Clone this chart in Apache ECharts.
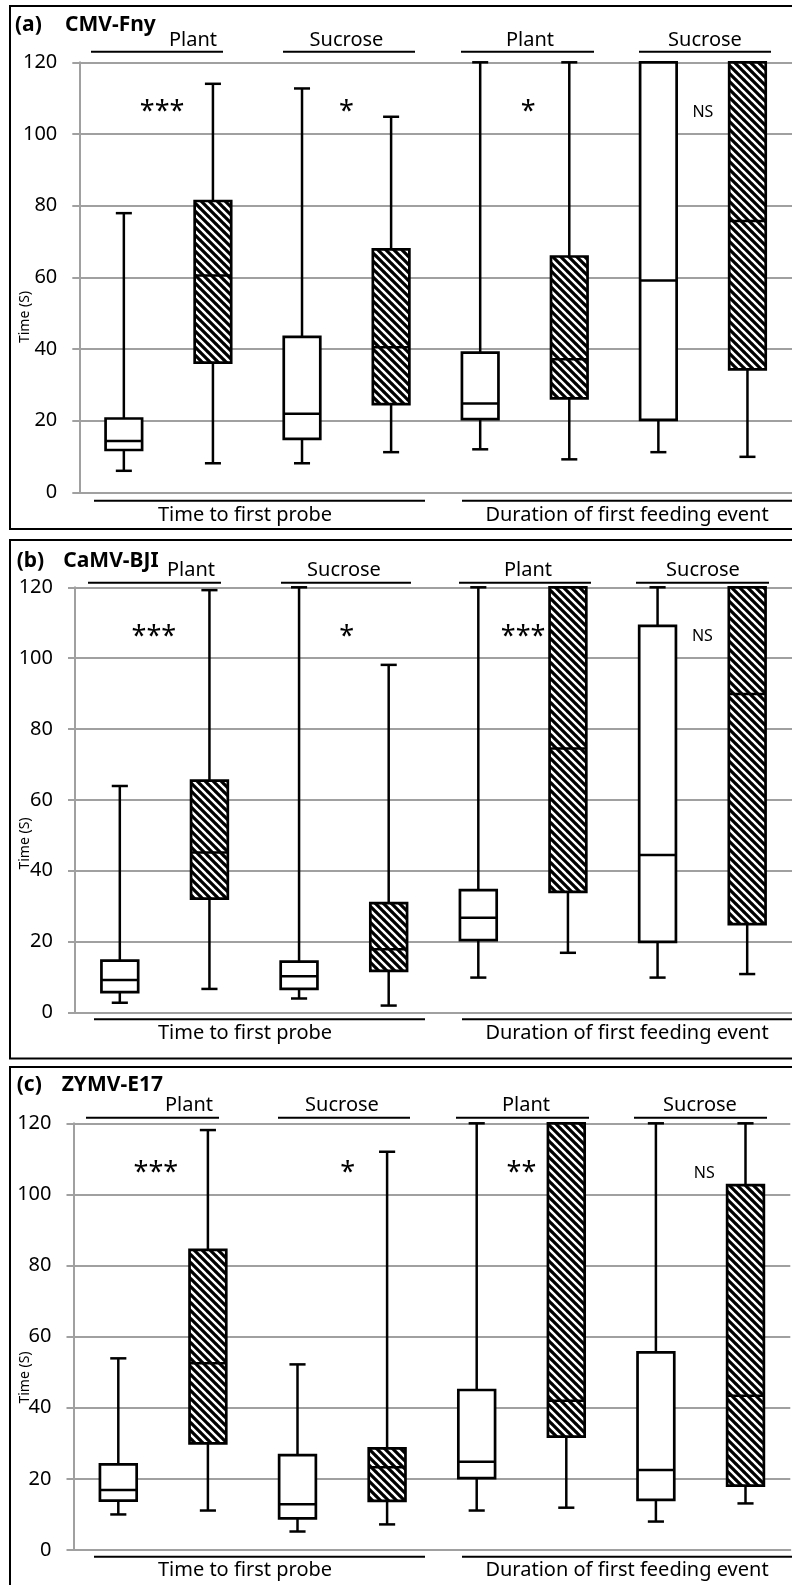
<!DOCTYPE html>
<html><head><meta charset="utf-8">
<script src="https://cdn.jsdelivr.net/npm/echarts/dist/echarts.min.js"></script>
<style>html,body{margin:0;padding:0;background:#fff}#c{width:792px;height:1585px}</style>
</head><body><div id="c"></div>
<script>
// ---- data ----
const categories = ['Probe-Plant-white','Probe-Plant-hatched','Probe-Sucrose-white','Probe-Sucrose-hatched',
                    'Feed-Plant-white','Feed-Plant-hatched','Feed-Sucrose-white','Feed-Sucrose-hatched'];
const hatchedFlags = [0,1,0,1,0,1,0,1];
const yTickValues = [0,20,40,60,80,100,120];
const panelTitles = ['(a)','(b)','(c)'];
const virusNames = ['CMV-Fny','CaMV-BJI','ZYMV-E17'];
const groupLabels = ['Plant','Sucrose','Plant','Sucrose'];
const measureLabels = ['Time to first probe','Duration of first feeding event'];
const yAxisName = 'Time (S)';

const lowA    = [6.0, 8.1, 8.1, 11.2, 12.0, 9.2, 11.2, 9.9];
const q1A     = [11.8, 36.2, 14.9, 24.6, 20.4, 26.2, 20.2, 34.3];
const medianA = [14.3, 60.5, 21.9, 40.5, 24.8, 37.1, 59.1, 75.7];
const q3A     = [20.6, 81.3, 43.4, 67.8, 39.0, 65.8, 120, 120];
const highA   = [77.9, 114, 112.7, 104.8, 120, 120, 120, 120];
const notesA  = ['***','*','*','NS'];

const lowB    = [2.7, 6.6, 3.9, 1.9, 9.8, 16.8, 9.8, 10.8];
const q1B     = [5.7, 32.1, 6.6, 11.7, 20.4, 34.0, 19.9, 24.9];
const medianB = [9.1, 45.1, 10.2, 17.8, 26.7, 74.5, 44.4, 89.9];
const q3B     = [14.6, 65.4, 14.3, 30.8, 34.5, 120, 109.1, 120];
const highB   = [63.9, 119.2, 120, 98.1, 120, 120, 120, 120];
const notesB  = ['***','*','***','NS'];

const lowC    = [10.0, 11.1, 5.2, 7.2, 11.1, 11.9, 8.0, 13.1];
const q1C     = [13.9, 30.0, 8.9, 13.8, 20.2, 31.9, 14.1, 18.1];
const medianC = [16.9, 52.5, 12.9, 23.3, 24.8, 42.0, 22.5, 43.4];
const q3C     = [24.1, 84.4, 26.7, 28.6, 45.0, 120, 55.6, 102.6];
const highC   = [53.9, 118.1, 52.2, 112.0, 120, 120, 120, 120];
const notesC  = ['***','*','**','NS'];

// annotation anchor (category-axis position, value)
const noteXA = [0.43, 2.5, 4.54, 6.5];
const noteXB = [0.38, 2.53, 4.5, 6.5];
const noteXC = [0.42, 2.56, 4.5, 6.54];
const noteY = 106;

// ---- drawing ----
const FONT = '"Noto Sans", "Open Sans", sans-serif';
function makeHatch(){
  const s=8, c=document.createElement('canvas'); c.width=s; c.height=s;
  const g=c.getContext('2d'); g.fillStyle='#fff'; g.fillRect(0,0,s,s);
  g.strokeStyle='#000'; g.lineWidth=3.2; g.beginPath();
  for(let k=-1;k<=1;k++){ g.moveTo(k*s-1,-1); g.lineTo(k*s+s+1,s+1); }
  g.stroke(); return c;
}
const hatchCanvas = makeHatch();
const hatchFill = {type:'pattern', image: hatchCanvas, repeat:'repeat'};

function boxData(lo,q1,md,q3,hi){
  return categories.map((c,i)=>[i,lo[i],q1[i],md[i],q3[i],hi[i],hatchedFlags[i]]);
}
function renderBox(params, api){
  const x=api.value(0);
  const lo=api.coord([x,api.value(1)]), q1=api.coord([x,api.value(2)]),
        md=api.coord([x,api.value(3)]), q3=api.coord([x,api.value(4)]), hi=api.coord([x,api.value(5)]);
  const band=api.size([1,0])[0];
  const bw=band*0.41, cw=band*0.18, cx=lo[0];
  const ls={stroke:'#000',lineWidth:2.5,fill:null};
  return {type:'group',children:[
    {type:'line',shape:{x1:cx,y1:lo[1],x2:cx,y2:q1[1]},style:ls},
    {type:'line',shape:{x1:cx,y1:q3[1],x2:cx,y2:hi[1]},style:ls},
    {type:'line',shape:{x1:cx-cw/2,y1:lo[1],x2:cx+cw/2,y2:lo[1]},style:ls},
    {type:'line',shape:{x1:cx-cw/2,y1:hi[1],x2:cx+cw/2,y2:hi[1]},style:ls},
    {type:'rect',shape:{x:cx-bw/2,y:q3[1],width:bw,height:q1[1]-q3[1]},
      style:{fill:api.value(6)===1?hatchFill:'#fff',stroke:'#000',lineWidth:2.7}},
    {type:'line',shape:{x1:cx-bw/2,y1:md[1],x2:cx+bw/2,y2:md[1]},style:ls}
  ]};
}
function noteRenderer(notes){
  return function(params, api){
    const p=api.coord([api.value(0),api.value(1)]);
    const t=notes[params.dataIndex];
    const isNS = t==='NS';
    return {type:'text',x:p[0],y:p[1],style:{text:t,textAlign:'center',textVerticalAlign:'middle',
      font:(isNS?'16px ':'27px ')+FONT,fill:'#000'}};
  };
}

const grids = [
  {left:79.3, top:62.3, width:715.2, height:430},
  {left:75, top:587.3, width:720, height:425},
  {left:73.5, top:1123.3, width:716.8, height:426.7}
];
const panels = [
  {lo:lowA,q1:q1A,md:medianA,q3:q3A,hi:highA,notes:notesA,nx:noteXA},
  {lo:lowB,q1:q1B,md:medianB,q3:q3B,hi:highB,notes:notesB,nx:noteXB},
  {lo:lowC,q1:q1C,md:medianC,q3:q3C,hi:highC,notes:notesC,nx:noteXC}
];

const xAxes = grids.map((g,i)=>({gridIndex:i,type:'value',min:-0.5,max:7.5,
  axisLine:{show:true,onZero:false,lineStyle:{color:'#a0a0a0',width:2}},axisTick:{show:false},axisLabel:{show:false},splitLine:{show:false}}));
const yAxes = grids.map((g,i)=>({gridIndex:i,type:'value',min:0,max:120,interval:20,
  axisLine:{show:true,onZero:false,lineStyle:{color:'#a0a0a0',width:2}},
  axisTick:{show:true,length:7,lineStyle:{color:'#a0a0a0',width:2}},
  axisLabel:{margin:22,fontSize:20,fontFamily:FONT,color:'#000',
    formatter:v=>yTickValues.includes(v)?String(v):''},
  splitLine:{show:true,lineStyle:{color:'#a0a0a0',width:2}}}));

const series=[];
panels.forEach((p,i)=>{
  series.push({type:'custom',xAxisIndex:i,yAxisIndex:i,renderItem:renderBox,clip:false,
    encode:{x:0,y:[1,2,3,4,5]},data:boxData(p.lo,p.q1,p.md,p.q3,p.hi),z:3});
  series.push({type:'custom',xAxisIndex:i,yAxisIndex:i,renderItem:noteRenderer(p.notes),clip:false,
    encode:{x:0,y:1},data:p.nx.map(x=>[x,noteY]),z:4});
});

// ---- decorations (layout only) ----
const graphic=[];
const frames=[[6,523],[540,518.5],[1067,600]];
frames.forEach(f=>graphic.push({type:'rect',shape:{x:10,y:f[0],width:800,height:f[1]},style:{fill:null,stroke:'#000',lineWidth:2},z:1}));
function txt(x,y,t,font,align,rot){
  graphic.push({type:'text',x:x,y:y,rotation:rot||0,style:{text:t,font:font,fill:'#000',textAlign:align||'center',textVerticalAlign:'middle'},z:10});
}
function hline(x1,x2,y){graphic.push({type:'line',shape:{x1:x1,y1:y,x2:x2,y2:y},style:{stroke:'#000',lineWidth:2},z:10});}

const titleY=[25.5,561.5,1085.5], titleX=[[15,65],[16.7,63.3],[16.7,61.7]];
const headY=[40,570.5,1105.5], headLineY=[51.7,582.7,1117.7];
const headLines=[[[91,223],[283,415],[461,594],[639,771]],
                 [[88,221],[281,411],[459,591],[636,769]],
                 [[86,219],[278,410],[456,589],[634,767]]];
const headTextX=[[193,346.5,530,705],[191,344,528,703],[189,342,526,700]];
const footLineY=[500.7,1019.3,1556.7], footTextY=[515,1033.3,1570];
const yNameY=[317,843.5,1377.5];
for(let i=0;i<3;i++){
  txt(titleX[i][0],titleY[i],panelTitles[i],'bold 21px '+FONT,'left');
  txt(titleX[i][1],titleY[i],virusNames[i],'bold 21px '+FONT,'left');
  for(let j=0;j<4;j++){
    hline(headLines[i][j][0],headLines[i][j][1],headLineY[i]);
    txt(headTextX[i][j],headY[i],groupLabels[j],'20px '+FONT,'center');
  }
  hline(94,425,footLineY[i]); hline(462,800,footLineY[i]);
  txt(245,footTextY[i],measureLabels[0],'20px '+FONT,'center');
  txt(627,footTextY[i],measureLabels[1],'20px '+FONT,'center');
  txt(25,yNameY[i],yAxisName,'14px '+FONT,'center',Math.PI/2);
}

const chart=echarts.init(document.getElementById('c'),null,{renderer:'canvas'});
chart.setOption({animation:false,backgroundColor:'#fff',grid:grids,xAxis:xAxes,yAxis:yAxes,series:series,graphic:graphic});
</script></body></html>
